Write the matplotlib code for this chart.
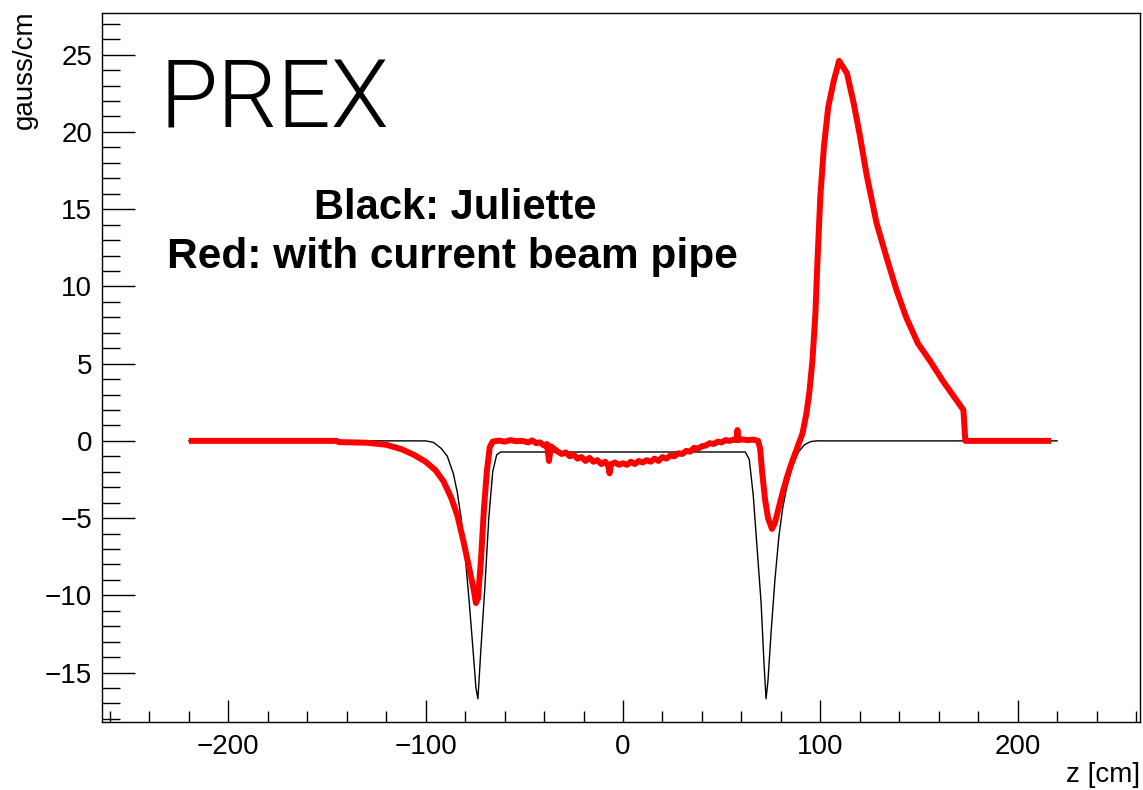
import matplotlib
matplotlib.use('Agg')
import matplotlib.pyplot as plt
from matplotlib.ticker import MultipleLocator

plt.rcParams['font.family'] = ['Liberation Sans', 'DejaVu Sans']

# ---- data ----
black_z = [-220, -100, -96, -92, -89, -86, -84, -82, -80, -78, -76, -74.5, -73.5,
           -72, -70, -68, -66, -64, -62, 62, 64, 66, 68, 70, 71.5, 72.5, 73.5,
           75, 77, 79, 81, 83, 86, 89, 92, 95, 98, 220]
black_b = [0, 0, -0.1, -0.5, -1.0, -2.1, -3.3, -5.0, -7.4, -10.3, -13.5, -16.0, -16.7,
           -13.5, -9.5, -5.0, -2.0, -0.9, -0.72, -0.72, -1.2, -3.5, -7.0, -10.5, -14.5, -16.7, -15.5,
           -12.5, -9.0, -6.2, -4.3, -3.0, -1.6, -0.7, -0.25, -0.05, 0, 0]

red_z = [-220, -145, -144, -130, -120, -112, -106, -100, -95, -91, -87, -84, -81, -78,
         -76, -74.5, -73.5, -72, -70.5, -69, -67.5, -66,
         -63, -60, -57, -54, -51, -48, -46, -44, -42, -40, -38.5, -37.5, -36.5, -35,
         -33, -31, -29, -27, -25, -23, -21, -19, -17, -15, -13, -11, -9, -7.5, -6.8, -6,
         -4, -2, 0, 2, 4, 6, 8, 10, 12, 14, 16, 18, 20, 22, 24, 26, 28, 30, 32, 34, 36,
         38, 40, 42, 44, 46, 48, 50, 52, 54, 56, 57.5, 58, 58.5, 60, 63, 66, 68.5,
         69.5, 70.5, 72, 73.5, 75.5, 77, 79, 81, 83, 85, 87, 89, 91, 93, 94.5, 96,
         97.5, 98.5, 100, 101.8, 104, 106.8, 109.5, 113.5, 117, 120, 123.5, 128.5,
         133.5, 138.5, 143.5, 149.5, 155.5, 162, 172.5, 173.5, 217]
red_b = [0, 0, -0.08, -0.12, -0.25, -0.55, -0.9, -1.35, -1.9, -2.6, -3.7, -4.8, -6.4, -8.2,
         -9.4, -10.5, -10.2, -7.8, -4.5, -2.0, -0.4, -0.05,
         0.02, -0.05, 0.05, -0.02, 0.0, -0.1, 0.03, -0.15, -0.1, -0.3, -0.2, -1.3, -0.35, -0.5,
         -0.7, -0.85, -0.75, -1.0, -0.9, -1.15, -1.05, -1.3, -1.1, -1.35, -1.25, -1.5, -1.35, -1.6, -2.1, -1.5,
         -1.4, -1.55, -1.45, -1.55, -1.35, -1.5, -1.3, -1.4, -1.25, -1.35, -1.15, -1.3, -1.05, -1.15, -0.95, -1.0, -0.8, -0.85, -0.65, -0.7, -0.45,
         -0.5, -0.35, -0.3, -0.15, -0.2, -0.05, -0.1, 0.05, 0.0, 0.08, 0.05, 0.7, 0.05, 0.1, 0.05, 0.08, 0.0,
         -0.5, -2.0, -3.8, -5.0, -5.7, -5.3, -4.3, -3.3, -2.4, -1.6, -0.9, -0.2, 0.5, 1.8, 3.2, 5.2,
         8.2, 11.5, 15.8, 19.0, 21.6, 23.3, 24.6, 23.8, 21.8, 19.8, 17.2, 14.1,
         11.9, 9.8, 8.0, 6.3, 5.2, 3.9, 2.0, 0, 0]

x_label = "z [cm]"
y_label = "gauss/cm"
title_text = "PREX"
note_lines = ["Black: Juliette", "Red: with current beam pipe"]

W, H = 1143, 790
fig = plt.figure(figsize=(W / 100, H / 100), dpi=100)
ax = fig.add_axes([102 / W, 1 - 722 / H, (1140 - 102) / W, (722 - 13) / H])

ax.plot(black_z, black_b, color='black', lw=1.0, zorder=2)
ax.plot(red_z, red_b, color='#ff0000', lw=4.3, zorder=3, solid_joinstyle='round',
        solid_capstyle='butt')

ax.set_xlim(-264, 262)
ax.set_ylim(-18.2, 27.7)

ax.xaxis.set_major_locator(MultipleLocator(100))
ax.xaxis.set_minor_locator(MultipleLocator(20))
ax.yaxis.set_major_locator(MultipleLocator(5))
ax.yaxis.set_minor_locator(MultipleLocator(1))

ax.tick_params(axis='both', which='both', direction='in', labelsize=20, width=1.0,
               top=False, right=False)
ax.tick_params(axis='y', which='major', length=24, pad=7)
ax.tick_params(axis='y', which='minor', length=13)
ax.tick_params(axis='x', which='major', length=16, pad=9)
ax.tick_params(axis='x', which='minor', length=8)
for s in ax.spines.values():
    s.set_linewidth(1.0)

fig.text(1140 / W, 1 - 775 / H, x_label, ha='right', va='center', fontsize=20)
fig.text(25 / W, 1 - 10 / H, y_label, ha='center', va='top', rotation=90, fontsize=20)

fig.text(160 / W, 1 - 128 / H, title_text, ha='left', va='baseline', fontsize=68,
         family=['Roboto', 'DejaVu Sans'], fontweight=300)
fig.text(455 / W, 1 - 219 / H, note_lines[0], ha='center', va='baseline', fontsize=30,
         fontweight='bold')
fig.text(452 / W, 1 - 268 / H, note_lines[1], ha='center', va='baseline', fontsize=30.5,
         fontweight='bold')

fig.savefig('out.png', dpi=100)
